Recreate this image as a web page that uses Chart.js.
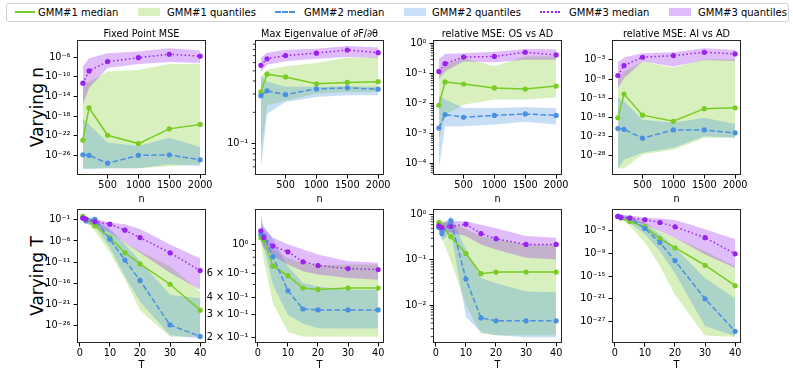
<!DOCTYPE html>
<html>
<head>
<meta charset="utf-8">
<script src="https://cdn.jsdelivr.net/npm/chart.js@4.4.1/dist/chart.umd.min.js"></script>
<style>
  body { margin: 0; background: #fff; width: 793px; height: 374px; position: relative; overflow: hidden; font-family: 'DejaVu Sans', sans-serif; }
  canvas { position: absolute; }
  .rowlabel { position: absolute; font-size: 17px; white-space: nowrap; transform: translate(-50%, -50%) rotate(-90deg); }
  #legend { position: absolute; left: 6px; top: 3px; width: 781px; height: 17px; border: 1px solid #d0d0d0; border-radius: 3px; }
  .lg-text { position: absolute; top: 0; font-size: 10px; line-height: 17px; white-space: nowrap; }
  .lg-line { position: absolute; top: 7px; width: 20px; height: 0; }
  .lg-patch { position: absolute; top: 4px; width: 22px; height: 8px; }
</style>
</head>
<body>
<div id="legend"></div>
<div class="rowlabel" style="left:37px; top:107px;">Varying n</div>
<div class="rowlabel" style="left:37px; top:276px;">Varying T</div>

<script>
// x values
const nVals = [100, 200, 500, 1000, 1500, 2000];
const tVals = [1, 2, 5, 10, 15, 20, 30, 40];
const nTicks = [500, 1000, 1500, 2000];
const tTicks = [0, 10, 20, 30, 40];

const seriesNames = ["GMM#1", "GMM#2", "GMM#3"];
const titles = ["Fixed Point MSE", "Max Eigenvalue of \u2202F/\u2202\u03b8", "relative MSE: OS vs AD", "relative MSE: AI vs AD"];

// all y values are log10 exponents, [GMM#1, GMM#2, GMM#3]
// --- varying n ---
const fixN_med = [[-22.9, -16.3, -21.9, -23.6, -20.6, -19.7], [-25.9, -26.0, -27.6, -26.0, -25.9, -26.9], [-11.3, -8.8, -6.9, -6.1, -5.4, -5.8]];
const fixN_lo = [[-28.6, -28.6, -28.6, -28.6, -28.2, -27.8], [-28.8, -28.8, -28.6, -28.6, -27.8, -28.2], [-15.7, -12.3, -8.2, -7.4, -7.0, -7.2]];
const fixN_hi = [[-11.5, -11.0, -8.9, -8.6, -7.4, -7.4], [-18.5, -19.7, -23.4, -24.1, -22.4, -24.3], [-7.9, -6.2, -5.2, -4.85, -4.2, -4.65]];

const eigN_med = [[-0.503, -0.333, -0.359, -0.425, -0.412, -0.405], [-0.539, -0.493, -0.529, -0.474, -0.464, -0.477], [-0.248, -0.186, -0.154, -0.131, -0.101, -0.127]];
const eigN_lo = [[-1.075, -0.634, -0.585, -0.52, -0.503, -0.503], [-1.24, -0.716, -0.6, -0.552, -0.536, -0.536], [-0.307, -0.242, -0.209, -0.186, -0.167, -0.176]];
const eigN_hi = [[-0.356, -0.29, -0.258, -0.225, -0.176, -0.167], [-0.34, -0.405, -0.454, -0.454, -0.448, -0.454], [-0.176, -0.127, -0.101, -0.088, -0.062, -0.078]];

const osN_med = [[-2.05, -1.27, -1.34, -1.47, -1.51, -1.41], [-2.81, -2.36, -2.45, -2.39, -2.34, -2.39], [-0.92, -0.66, -0.44, -0.42, -0.28, -0.37]];
const osN_lo = [[-3.2, -2.36, -2.03, -1.86, -1.86, -1.78], [-4.19, -2.75, -2.75, -2.69, -2.6, -2.69], [-1.17, -0.92, -0.59, -0.61, -0.53, -0.53]];
const osN_hi = [[-1.03, -0.70, -0.48, -0.75, -0.42, -0.42], [-1.75, -1.85, -2.14, -2.14, -2.12, -2.14], [-0.51, -0.34, -0.31, -0.26, -0.17, -0.18]];

const aiN_med = [[-18.1, -11.9, -17.4, -19.0, -15.7, -15.5], [-20.9, -21.1, -23.4, -21.25, -21.25, -22.0], [-7.07, -4.47, -2.31, -1.88, -1.01, -1.44]];
const aiN_lo = [[-31.3, -31.3, -27.6, -26.4, -23.3, -23.3], [-31.3, -29.0, -27.2, -25.9, -22.9, -23.3], [-10.4, -7.8, -3.43, -4.73, -3.0, -3.26]];
const aiN_hi = [[-8.2, -6.0, -3.4, -5.0, -2.8, -2.8], [-12.8, -13.8, -18.6, -19.4, -18.1, -19.7], [-3.6, -2.4, -1.27, -1.0, 0.03, -0.4]];

// --- varying T ---
const fixT_med = [[-0.2, -0.84, -2.43, -5.2, -8.78, -11.4, -16.2, -22.3], [-0.6, -1.24, -0.92, -5.6, -10.5, -15.3, -25.8, -28.5], [-0.6, -0.84, -1.48, -2.03, -3.46, -5.2, -8.78, -12.98]];
const fixT_lo = [[-0.84, -1.6, -3.6, -8.8, -15.1, -22.3, -28.6, -28.6], [-1.1, -2.0, -2.4, -7.6, -14.3, -20.3, -28.2, -29.0], [-1.1, -1.5, -2.4, -4.0, -6.4, -8.8, -13.5, -17.5]];
const fixT_hi = [[0.1, -0.2, -1.2, -3.6, -6.4, -8.4, -12.0, -17.9], [-0.2, -0.44, -0.44, -3.2, -6.8, -10.8, -18.7, -19.5], [-0.05, -0.4, -0.84, -1.63, -2.03, -3.2, -6.8, -10.1]];

const eigT_med = [[0.05, 0.03, -0.164, -0.235, -0.328, -0.338, -0.328, -0.328], [0.076, 0.063, -0.093, -0.348, -0.485, -0.492, -0.492, -0.492], [0.101, 0.05, -0.013, -0.056, -0.131, -0.159, -0.182, -0.189]];
const eigT_lo = [[0.013, -0.126, -0.442, -0.657, -0.694, -0.694, -0.694, -0.694], [0.038, -0.025, -0.303, -0.53, -0.593, -0.63, -0.631, -0.631], [0.025, -0.03, -0.088, -0.152, -0.202, -0.227, -0.253, -0.265]];
const eigT_hi = [[0.088, 0.076, -0.038, -0.101, -0.146, -0.156, -0.152, -0.152], [0.164, 0.126, 0.038, -0.164, -0.29, -0.316, -0.341, -0.341], [0.222, 0.126, 0.05, 0, -0.038, -0.076, -0.126, -0.139]];

const osT_med = [[-0.172, -0.246, -0.485, -0.858, -1.306, -1.269, -1.269, -1.269], [-0.284, -0.418, -0.134, -1.425, -2.284, -2.35, -2.35, -2.35], [-0.246, -0.284, -0.26, -0.209, -0.418, -0.53, -0.657, -0.657]];
const osT_lo = [[-0.358, -0.507, -1.03, -2.0, -2.63, -2.67, -2.67, -2.67], [-0.358, -0.582, -0.396, -2.26, -2.6, -2.67, -2.71, -2.71], [-0.358, -0.38, -0.396, -0.47, -0.657, -0.769, -0.955, -0.993]];
const osT_hi = [[-0.06, -0.134, -0.172, -0.321, -0.47, -0.545, -0.657, -0.657], [-0.134, -0.246, -0.022, -0.769, -1.40, -1.515, -1.70, -1.716], [-0.134, -0.172, -0.134, -0.149, -0.224, -0.3, -0.47, -0.507]];

const aiT_med = [[0.84, 0.4, -0.5, -1.93, -5.05, -7.46, -12.1, -17.5], [0.84, 0.57, 0.39, -2.37, -6.1, -10.9, -21.0, -29.6], [0.84, 0.57, 0.39, -0.05, -0.77, -1.93, -4.79, -9.07]];
const aiT_lo = [[0.4, 0.0, -1.7, -6.1, -12.4, -20.0, -30.7, -31.1], [0.4, 0.0, -0.9, -3.9, -8.4, -14.2, -28.2, -30.9], [0.4, 0.2, -0.32, -1.39, -3.0, -4.8, -9.25, -12.8]];
const aiT_hi = [[1.3, 1.1, 0.57, -0.77, -3.0, -4.8, -8.4, -12.4], [1.3, 1.1, 1.0, -1.2, -3.9, -7.46, -15.5, -20.9], [1.3, 1.2, 1.0, 0.57, 0.3, -0.14, -2.55, -5.23]];

// y tick labels
const fixN_yticks = [1e-26, 1e-22, 1e-18, 1e-14, 1e-10, 1e-6];
const eigN_yticks = [1e-1];
const osN_yticks = [1e-4, 1e-3, 1e-2, 1e-1, 1];
const aiN_yticks = [1e-28, 1e-23, 1e-18, 1e-13, 1e-8, 1e-3];
const fixT_yticks = [1e-26, 1e-21, 1e-16, 1e-11, 1e-6, 1e-1];
const eigT_yticks = [0.2, 0.3, 0.4, 0.6, 1];
const osT_yticks = [1e-2, 1e-1, 1];
const aiT_yticks = [1e-27, 1e-21, 1e-15, 1e-9, 1e-3];

const lineColors = ["rgb(122,204,36)", "rgb(74,144,226)", "rgb(152,34,238)"];
const fillColors = ["rgba(122,204,36,0.3)", "rgba(74,144,226,0.3)", "rgba(152,34,238,0.3)"];
const patchColors = ["rgb(215,240,189)", "rgb(201,222,247)", "rgb(224,189,250)"];
const dashes = [[], [5.5, 2.4], [1.5, 2.5]];

Chart.defaults.font.family = "'DejaVu Sans', sans-serif";
Chart.defaults.color = "#000";

function sup(n) {
    const map = { "-": "\u207b", "0": "\u2070", "1": "\u00b9", "2": "\u00b2", "3": "\u00b3", "4": "\u2074", "5": "\u2075", "6": "\u2076", "7": "\u2077", "8": "\u2078", "9": "\u2079" };
    return String(n).split("").map(c => map[c]).join("");
}

function logLabel(v) {
    const e = Math.floor(Math.log10(v) + 1e-9);
    const m = Math.round(v / Math.pow(10, e));
    if (m === 1) return "10" + sup(e);
    return m + " \u00d7 10" + sup(e);
}

function minorDecades(from, to) {
    const out = [];
    for (let k = from; k <= to; k++) {
        for (let m = 2; m <= 9; m++) out.push(m * Math.pow(10, k));
    }
    return out;
}

// axes frame + title centred over the plot area
const framePlugin = {
    id: "frame",
    afterDatasetsDraw(chart, args, opts) {
        const a = chart.chartArea;
        const ctx = chart.ctx;
        ctx.save();
        ctx.strokeStyle = "#262626";
        ctx.lineWidth = 1;
        ctx.strokeRect(Math.round(a.left) + 0.5, Math.round(a.top) + 0.5, Math.round(a.right - a.left) - 1, Math.round(a.bottom - a.top) - 1);
        if (opts.title) {
            ctx.fillStyle = "#000";
            ctx.font = "9.7px 'DejaVu Sans'";
            ctx.textAlign = "center";
            ctx.textBaseline = "alphabetic";
            ctx.fillText(opts.title, (a.left + a.right) / 2, a.top - 3.5);
        }
        ctx.restore();
    }
};

const minorTicks = {
    id: "minorTicks",
    afterDatasetsDraw(chart, args, opts) {
        const vals = opts.values || [];
        const y = chart.scales.y;
        const a = chart.chartArea;
        const ctx = chart.ctx;
        ctx.save();
        ctx.strokeStyle = "#000";
        ctx.lineWidth = 0.8;
        vals.forEach(v => {
            const py = y.getPixelForValue(v);
            if (py < a.top || py > a.bottom) return;
            ctx.beginPath();
            ctx.moveTo(a.left - 2.2, py);
            ctx.lineTo(a.left, py);
            ctx.stroke();
        });
        ctx.restore();
    }
};

const colLeft = [77, 255, 433, 612];
const rowTop = [40, 209];
const plotW = 129;
const plotH = [135, 134];

function pts(xs, ys) {
    return xs.map((x, i) => ({ x: x, y: Math.pow(10, ys[i]) }));
}

function makePanel(row, col, p) {
    const canvas = document.createElement("canvas");
    const w = 60 + plotW + 20;
    const h = 20 + plotH[row] + 30;
    canvas.width = w;
    canvas.height = h;
    canvas.style.left = (colLeft[col] - 60) + "px";
    canvas.style.top = (rowTop[row] - 20) + "px";
    canvas.style.width = w + "px";
    canvas.style.height = h + "px";
    document.body.appendChild(canvas);

    const datasets = [];
    for (let g = 0; g < 3; g++) {
        datasets.push({
            data: pts(p.x, p.hi[g]), fill: "+1", backgroundColor: fillColors[g],
            borderColor: "rgba(0,0,0,0)", borderWidth: 0, pointRadius: 0, order: 10 - g
        });
        datasets.push({
            data: pts(p.x, p.lo[g]), fill: false,
            borderColor: "rgba(0,0,0,0)", borderWidth: 0, pointRadius: 0, order: 10 - g
        });
    }
    for (let g = 0; g < 3; g++) {
        datasets.push({
            data: pts(p.x, p.med[g]), fill: false,
            borderColor: lineColors[g], backgroundColor: lineColors[g],
            borderWidth: 1.5, borderDash: dashes[g],
            pointRadius: 2.6, pointBorderWidth: 0, order: 3 - g
        });
    }

    new Chart(canvas, {
        type: "line",
        data: { datasets: datasets },
        plugins: [framePlugin, minorTicks],
        options: {
            responsive: false,
            animation: false,
            layout: { padding: { left: 0, right: 20, top: 20, bottom: 0 } },
            plugins: {
                legend: { display: false },
                tooltip: { enabled: false },
                filler: { drawTime: "beforeDatasetsDraw" },
                frame: { title: p.title },
                minorTicks: { values: p.minor || [] }
            },
            scales: {
                x: {
                    type: "linear",
                    min: p.xMin,
                    max: p.xMax,
                    afterBuildTicks: axis => { axis.ticks = p.xTicks.map(v => ({ value: v })); },
                    afterFit: axis => { axis.height = 30; },
                    ticks: { font: { size: 9.7 }, padding: 1, maxRotation: 0, autoSkip: false, callback: v => String(v) },
                    grid: { display: true, drawOnChartArea: false, drawTicks: true, tickLength: 3.5, tickColor: "#000" },
                    border: { display: false },
                    title: { display: true, text: p.xTitle, font: { size: 9.7, lineHeight: "12px" }, padding: { top: 0, bottom: p.xTitlePad } }
                },
                y: {
                    type: "logarithmic",
                    min: Math.pow(10, p.yLim[0]),
                    max: Math.pow(10, p.yLim[1]),
                    afterBuildTicks: axis => { axis.ticks = p.yTicks.map(v => ({ value: v })); },
                    afterFit: axis => { axis.width = 60; },
                    ticks: { font: { size: 9.7 }, padding: 3, autoSkip: false, callback: v => logLabel(v) },
                    grid: { display: true, drawOnChartArea: false, drawTicks: true, tickLength: 3.5, tickColor: "#000" },
                    border: { display: false }
                }
            }
        }
    });
}

const nAxis = { x: nVals, xMin: 5, xMax: 2095, xTicks: nTicks, xTitle: "n", xTitlePad: 0 };
const tAxis = { x: tVals, xMin: -0.95, xMax: 41.95, xTicks: tTicks, xTitle: "T", xTitlePad: 2 };

makePanel(0, 0, { ...nAxis, title: titles[0], med: fixN_med, lo: fixN_lo, hi: fixN_hi, yTicks: fixN_yticks, yLim: [-29.85, -2.5] });
makePanel(0, 1, { ...nAxis, title: titles[1], med: eigN_med, lo: eigN_lo, hi: eigN_hi, yTicks: eigN_yticks, yLim: [-1.30, -0.005],
    minor: [0.06, 0.07, 0.08, 0.09].concat(minorDecades(-1, -1)) });
makePanel(0, 2, { ...nAxis, title: titles[2], med: osN_med, lo: osN_lo, hi: osN_hi, yTicks: osN_yticks, yLim: [-4.38, 0.13],
    minor: minorDecades(-5, 0) });
makePanel(0, 3, { ...nAxis, title: titles[3], med: aiN_med, lo: aiN_lo, hi: aiN_hi, yTicks: aiN_yticks, yLim: [-33.0, 2.19] });

makePanel(1, 0, { ...tAxis, title: "", med: fixT_med, lo: fixT_lo, hi: fixT_hi, yTicks: fixT_yticks, yLim: [-30.05, 1.54] });
makePanel(1, 1, { ...tAxis, title: "", med: eigT_med, lo: eigT_lo, hi: eigT_hi, yTicks: eigT_yticks, yLim: [-0.74, 0.265],
    minor: [0.5, 0.7, 0.8, 0.9] });
makePanel(1, 2, { ...tAxis, title: "", med: osT_med, lo: osT_lo, hi: osT_hi, yTicks: osT_yticks, yLim: [-2.84, 0.127],
    minor: minorDecades(-3, 0) });
makePanel(1, 3, { ...tAxis, title: "", med: aiT_med, lo: aiT_lo, hi: aiT_hi, yTicks: aiT_yticks, yLim: [-32.7, 2.8] });

// legend across the top
const legend = document.getElementById("legend");
const legendPos = [[8, 31, 131, 160], [268, 297, 397, 425], [533, 562, 662, 691]];
const lineStyles = ["solid", "dashed", "dotted"];
seriesNames.forEach((name, g) => {
    const [lineX, textX, patchX, text2X] = legendPos[g];
    const ln = document.createElement("div");
    ln.className = "lg-line";
    ln.style.left = lineX + "px";
    ln.style.borderTop = "2px " + lineStyles[g] + " " + lineColors[g];
    legend.appendChild(ln);
    const t1 = document.createElement("div");
    t1.className = "lg-text";
    t1.style.left = textX + "px";
    t1.textContent = name + " median";
    legend.appendChild(t1);
    const pt = document.createElement("div");
    pt.className = "lg-patch";
    pt.style.left = patchX + "px";
    pt.style.background = patchColors[g];
    legend.appendChild(pt);
    const t2 = document.createElement("div");
    t2.className = "lg-text";
    t2.style.left = text2X + "px";
    t2.textContent = name + " quantiles";
    legend.appendChild(t2);
});
</script>
</body>
</html>
